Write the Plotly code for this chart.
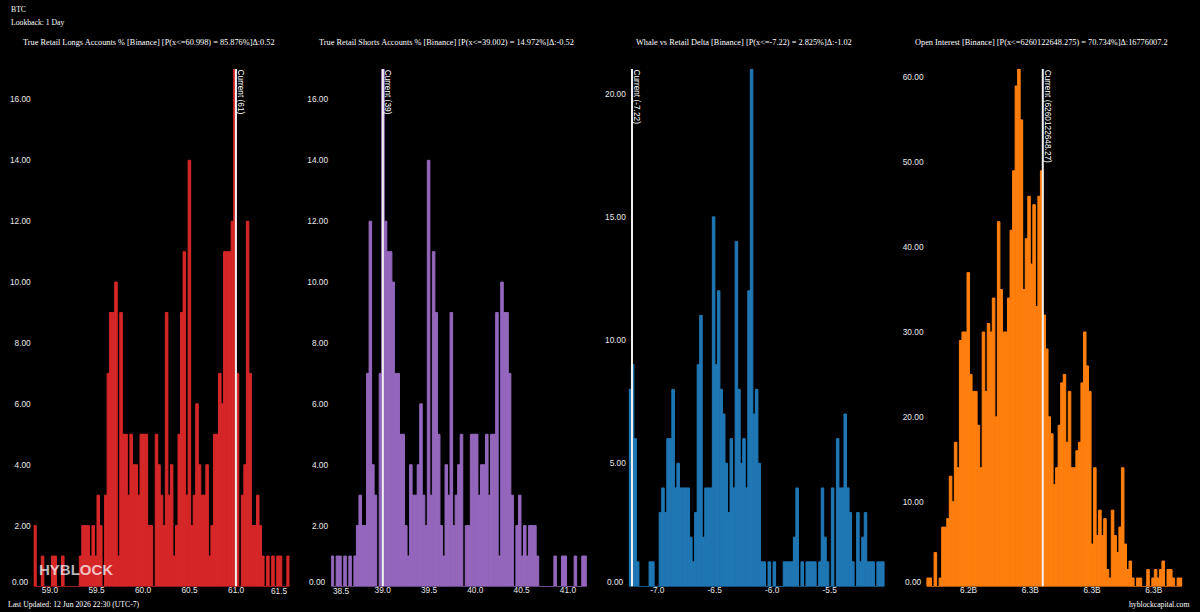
#!/usr/bin/env python3
"""
BTC distribution panels (1 day lookback), four histograms with the current value marked
"""
import plotly.graph_objects as go

# Counts per bin, 101 bins per panel
longs_counts = [2, 0, 0, 1, 0, 0, 0, 1, 1, 0, 0, 1, 0, 0, 0, 0, 0, 0, 1, 2, 2, 2, 1, 2, 1, 3, 2, 0, 3, 7,
                9, 9, 10, 1, 9, 5, 5, 3, 5, 4, 4, 3, 5, 5, 5, 2, 2, 0, 5, 4, 3, 2, 9, 3, 4, 1, 2, 5, 9, 11,
                3, 14, 2, 3, 6, 4, 3, 3, 4, 1, 2, 5, 5, 7, 6, 11, 11, 11, 12, 17, 7, 0, 3, 4, 12, 7, 2, 2, 3, 2,
                1, 0, 1, 0, 1, 0, 1, 1, 0, 0, 1]
shorts_counts = [1, 0, 1, 1, 0, 1, 0, 1, 0, 1, 2, 3, 2, 2, 7, 12, 4, 3, 0, 7, 17, 12, 11, 11, 10, 7, 7, 5, 5, 2,
                 1, 4, 3, 3, 4, 6, 3, 2, 14, 3, 11, 9, 5, 2, 1, 4, 3, 9, 2, 3, 4, 5, 0, 2, 2, 5, 5, 5, 3, 4,
                 4, 5, 3, 5, 5, 9, 1, 10, 9, 9, 7, 3, 0, 2, 3, 1, 2, 1, 2, 2, 2, 1, 0, 0, 0, 0, 0, 0, 1, 0,
                 0, 1, 1, 0, 0, 0, 1, 0, 0, 1, 1]
delta_counts = [8, 9, 6, 1, 0, 0, 0, 0, 1, 1, 0, 0, 3, 4, 3, 6, 6, 8, 4, 5, 4, 4, 4, 4, 2, 1, 3, 9, 11, 2,
                4, 4, 4, 15, 9, 12, 8, 7, 5, 3, 6, 4, 14, 8, 5, 6, 4, 12, 21, 7, 8, 5, 1, 1, 0, 1, 0, 1, 0, 0,
                0, 1, 1, 1, 1, 2, 4, 0, 1, 0, 1, 1, 1, 1, 0, 1, 4, 2, 1, 0, 4, 0, 6, 4, 4, 7, 4, 3, 1, 0,
                3, 1, 2, 3, 1, 1, 1, 0, 1, 1, 1]
oi_counts = [1, 1, 0, 4, 0, 1, 7, 7, 8, 13, 10, 17, 14, 29, 30, 30, 37, 25, 23, 23, 19, 14, 30, 23, 31, 30, 34, 20, 43, 35,
             30, 30, 34, 42, 49, 59, 61, 55, 35, 41, 46, 38, 45, 33, 46, 49, 32, 28, 20, 18, 12, 14, 19, 24, 25, 17, 23, 14, 14, 16,
             17, 24, 30, 26, 23, 5, 14, 6, 9, 6, 8, 2, 1, 9, 6, 4, 7, 14, 5, 2, 3, 1, 0, 1, 1, 0, 0, 2, 0, 1,
             2, 1, 2, 3, 0, 2, 2, 1, 0, 1, 1]

# Bin layout, centre of the first bin and bin width
longs_bins = (58.839, 0.0272)
shorts_bins = (38.457, 0.02733)
delta_bins = (-7.2367, 0.02203)
oi_bins = (6166940000, 2051000)

# Current values
current_values = [60.998, 39.002, -7.22, 6260122648.27]
current_labels = ["Current (61)", "Current (39)", "Current (-7.22)", "Current (6260122648.27)"]

titles = [
    "True Retail Longs Accounts % [Binance] [P(x<=60.998) = 85.876%]Δ:0.52",
    "True Retail Shorts Accounts % [Binance] [P(x<=39.002) = 14.972%]Δ:-0.52",
    "Whale vs Retail Delta [Binance] [P(x<=-7.22) = 2.825%]Δ:-1.02",
    "Open Interest [Binance] [P(x<=6260122648.275) = 70.734%]Δ:16776007.2",
]
title_left_px = [22, 318, 635, 914]

# Tick labels
x_ticks = [
    [59.0, 59.5, 60.0, 60.5, 61.0],
    [39.0, 39.5, 40.0, 40.5, 41.0],
    [-7.0, -6.5, -6.0, -5.5],
    [6.2e9, 6.25e9, 6.3e9, 6.35e9],
]
x_tick_labels = [
    ["59.0", "59.5", "60.0", "60.5", "61.0"],
    ["39.0", "39.5", "40.0", "40.5", "41.0"],
    ["-7.0", "-6.5", "-6.0", "-5.5"],
    ["6.2B", "6.3B", "6.3B", "6.3B"],
]
y_ticks = [
    [2, 4, 6, 8, 10, 12, 14, 16],
    [2, 4, 6, 8, 10, 12, 14, 16],
    [5, 10, 15, 20],
    [10, 20, 30, 40, 50, 60],
]
y_max = [17, 17, 21, 61]

# Labels the original pushes inwards at the panel edge: panel, value, text, shift
edge_x_labels = [(0, 61.5, "61.5", -3.2), (1, 38.5, "38.5", 5.0)]

counts = [longs_counts, shorts_counts, delta_counts, oi_counts]
bins = [longs_bins, shorts_bins, delta_bins, oi_bins]
colors = ["#d62728", "#9467bd", "#1f77b4", "#ff7f0e"]
panel_left_px = [33.7, 331.1, 628.8, 926.5]
PANEL_WIDTH_PX = 255.7
W, H = 1200, 612
PLOT_TOP_PX, PLOT_BOTTOM_PX = 69, 586.5

SANS = "Liberation Sans"
SERIF = "Liberation Serif"
TICK_SIZE = 8.3

fig = go.Figure()
annotations = []
shapes = []
layout_axes = {}


def note(text, x_px, y_px, size, family=SERIF, xanchor="left"):
    return dict(text=text, xref="paper", yref="paper", x=x_px / W, y=1 - y_px / H,
                xanchor=xanchor, yanchor="middle", showarrow=False, borderpad=0,
                font=dict(family=family, size=size, color="white"))


for i in range(4):
    suffix = "" if i == 0 else str(i + 1)
    xa, ya = "x" + suffix, "y" + suffix
    start, width = bins[i]

    fig.add_trace(go.Bar(
        y=counts[i], x0=start, dx=width, xaxis=xa, yaxis=ya,
        marker=dict(color=colors[i], line=dict(color=colors[i], width=1)),
        cliponaxis=False, showlegend=False,
    ))

    left = panel_left_px[i]
    layout_axes["xaxis" + suffix] = dict(
        domain=[left / W, (left + PANEL_WIDTH_PX) / W],
        range=[start - width / 2, start + width * 100.5],
        anchor=ya, showgrid=False, zeroline=False, showline=False, ticks="",
        tickvals=x_ticks[i], ticktext=x_tick_labels[i], ticklabelstandoff=-3,
        tickfont=dict(family=SANS, size=TICK_SIZE, color="#e8e8e8"),
    )
    layout_axes["yaxis" + suffix] = dict(
        domain=[1 - PLOT_BOTTOM_PX / H, 1 - PLOT_TOP_PX / H],
        range=[0, y_max[i]],
        anchor=xa, showgrid=False, zeroline=False, showline=False, ticks="",
        tickvals=y_ticks[i], tickformat=".2f", ticklabelstandoff=2,
        tickfont=dict(family=SANS, size=TICK_SIZE, color="#e8e8e8"),
    )

    # current value marker
    shapes.append(dict(type="line", xref=xa, yref=ya, x0=current_values[i], x1=current_values[i],
                       y0=0, y1=y_max[i], line=dict(color="#f0f0f0", width=2)))
    annotations.append(dict(text=current_labels[i], xref=xa, yref=ya, x=current_values[i], y=y_max[i],
                            xanchor="left", yanchor="top", textangle=90, showarrow=False,
                            borderpad=0, font=dict(family=SANS, size=8.3, color="white")))

    # the 0.00 label sits a little above the axis
    annotations.append(dict(text="0.00", xref=xa, yref=ya, x=start - width / 2, y=0,
                            xanchor="right", yanchor="middle", xshift=-4, yshift=4.5, showarrow=False,
                            borderpad=0, font=dict(family=SANS, size=TICK_SIZE, color="#e8e8e8")))

    annotations.append(note(titles[i], title_left_px[i], 42.5, 8.3))

for panel, value, text, shift in edge_x_labels:
    suffix = "" if panel == 0 else str(panel + 1)
    annotations.append(dict(text=text, xref="x" + suffix, yref="y" + suffix, x=value, y=0,
                            xanchor="center", yanchor="top", xshift=shift, yshift=1.5, showarrow=False,
                            borderpad=0, font=dict(family=SANS, size=TICK_SIZE, color="#e8e8e8")))

annotations.append(note("BTC", 10, 9.5, 7.7))
annotations.append(note("Lookback: 1 Day", 10, 22.5, 7.7))
annotations.append(note("Last Updated: 12 Jun 2026 22:30 (UTC-7)", 7, 604, 7.7))
annotations.append(note("hyblockcapital.com", 1190, 604, 7.7, xanchor="right"))
annotations.append(dict(text="<b>HYBLOCK</b>", xref="paper", yref="paper", x=38 / W, y=1 - 569.5 / H,
                        xanchor="left", yanchor="middle", showarrow=False, borderpad=0,
                        font=dict(family=SANS, size=15, color="rgba(255,255,255,0.72)")))

fig.update_layout(
    width=W, height=H,
    margin=dict(l=0, r=0, t=0, b=0),
    paper_bgcolor="black", plot_bgcolor="black",
    bargap=0,
    annotations=annotations, shapes=shapes,
    **layout_axes,
)

# staticPlot keeps the bars at their exact positions instead of rounding them to whole pixels
fig.write_html("out.html", config={"staticPlot": True},
               post_script="document.body.style.margin='0';document.body.style.background='black';")
